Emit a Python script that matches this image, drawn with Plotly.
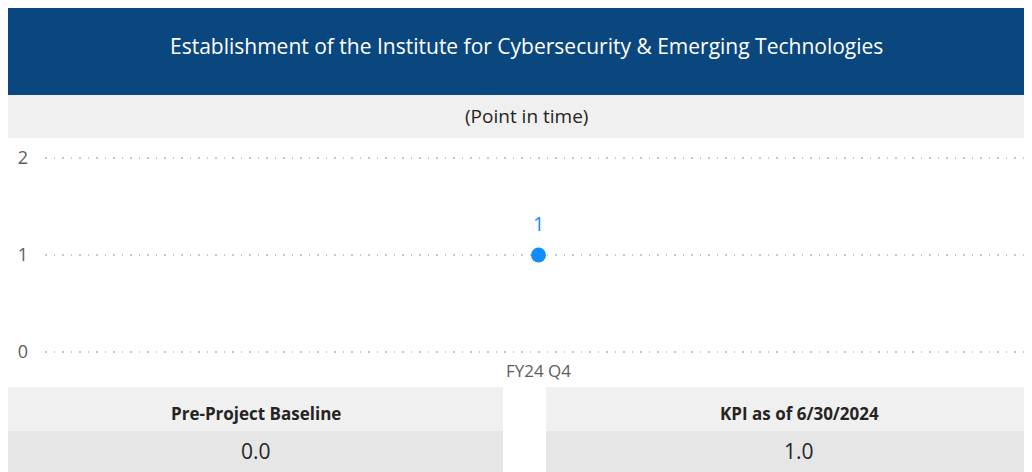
import plotly.graph_objects as go

TITLE = "Establishment of the Institute for Cybersecurity & Emerging Technologies"
SUBTITLE = "(Point in time)"
quarters = ["FY24 Q4"]
kpi_values = [1]
card_labels = ["Pre-Project Baseline", "KPI as of 6/30/2024"]
card_values = [0.0, 1.0]

# the page body keeps its default 8px margin, so the figure sits at (8, 8)
OFF = 8
W, H = 1032 - OFF, 472 - OFF
BLUE = "#0b477f"
HEAD_GRAY = "#f0f0f0"
VALUE_GRAY = "#e6e6e6"
POINT = "#118dff"
TEXT = "#252423"
FONT = "Open Sans, Noto Sans, sans-serif"


def fy(px):
    """page pixel row -> paper fraction"""
    return 1 - (px - OFF) / H


def fx(px):
    return (px - OFF) / W


fig = go.Figure()
fig.add_scatter(
    x=quarters,
    y=kpi_values,
    mode="markers",
    marker={"color": POINT, "size": 15},
    hoverinfo="skip",
    cliponaxis=False,
)

shapes = [
    dict(type="rect", xref="paper", yref="paper", x0=0, x1=1, y0=fy(95), y1=1,
         fillcolor=BLUE, line_width=0, layer="below"),
    dict(type="rect", xref="paper", yref="paper", x0=0, x1=1, y0=fy(138), y1=fy(95),
         fillcolor=HEAD_GRAY, line_width=0, layer="below"),
]
annotations = [
    dict(text=TITLE, x=fx(526), y=fy(46), xref="paper", yref="paper", showarrow=False,
         font={"color": "white", "size": 21, "family": FONT}, xanchor="center", yanchor="middle"),
    dict(text=SUBTITLE, x=fx(526), y=fy(116), xref="paper", yref="paper", showarrow=False,
         font={"color": TEXT, "size": 19, "family": FONT}, xanchor="center", yanchor="middle"),
]
# data label, lifted above the marker
for q, v in zip(quarters, kpi_values):
    annotations.append(dict(text=str(v), x=q, y=v, xref="x", yref="y", showarrow=False,
                            yshift=32, font={"color": POINT, "size": 20, "family": FONT}))

card_spans = [(8, 503, 256), (546, 1032, 799)]
for (x0, x1, cx), label, value in zip(card_spans, card_labels, card_values):
    shapes.append(dict(type="rect", xref="paper", yref="paper", x0=fx(x0), x1=fx(x1),
                       y0=fy(431), y1=fy(387), fillcolor=HEAD_GRAY, line_width=0, layer="below"))
    shapes.append(dict(type="rect", xref="paper", yref="paper", x0=fx(x0), x1=fx(x1),
                       y0=0, y1=fy(431), fillcolor=VALUE_GRAY, line_width=0, layer="below"))
    annotations.append(dict(text=f"<b>{label}</b>", x=fx(cx), y=fy(413), xref="paper", yref="paper",
                            showarrow=False, font={"color": TEXT, "size": 17, "family": FONT},
                            xanchor="center", yanchor="middle"))
    annotations.append(dict(text=f"{value:.1f}", x=fx(cx), y=fy(451), xref="paper", yref="paper",
                            showarrow=False, font={"color": TEXT, "size": 21, "family": FONT},
                            xanchor="center", yanchor="middle"))

# y = 0 at page row 352, y = 2 at row 158; pad the range so edge gridlines draw
pad = 0.03
unit = (352 - 158) / 2

fig.update_layout(
    width=W,
    height=H,
    margin={"l": 0, "r": 0, "t": 0, "b": 0, "pad": 0},
    paper_bgcolor="white",
    plot_bgcolor="white",
    showlegend=False,
    shapes=shapes,
    annotations=annotations,
    xaxis={
        "domain": [fx(45), 1],
        "type": "category",
        "range": [-0.5, 0.5],
        "automargin": False,
        "showgrid": False,
        "showline": False,
        "zeroline": False,
        "ticks": "",
        "ticklabelstandoff": 4,
        "tickfont": {"color": "#605e5c", "size": 17, "family": FONT},
    },
    yaxis={
        "domain": [fy(352 + pad * unit), fy(158 - pad * unit)],
        "range": [-pad, 2 + pad],
        "tickvals": [0, 1, 2],
        "automargin": False,
        "showgrid": True,
        "gridcolor": "#c8c8c8",
        "griddash": "1.5px,7px",
        "gridwidth": 1.5,
        "zeroline": False,
        "showline": False,
        "ticks": "",
        "ticklabelstandoff": 16,
        "tickfont": {"color": "#605e5c", "size": 18, "family": FONT},
    },
)

fig.write_html("out.html")
